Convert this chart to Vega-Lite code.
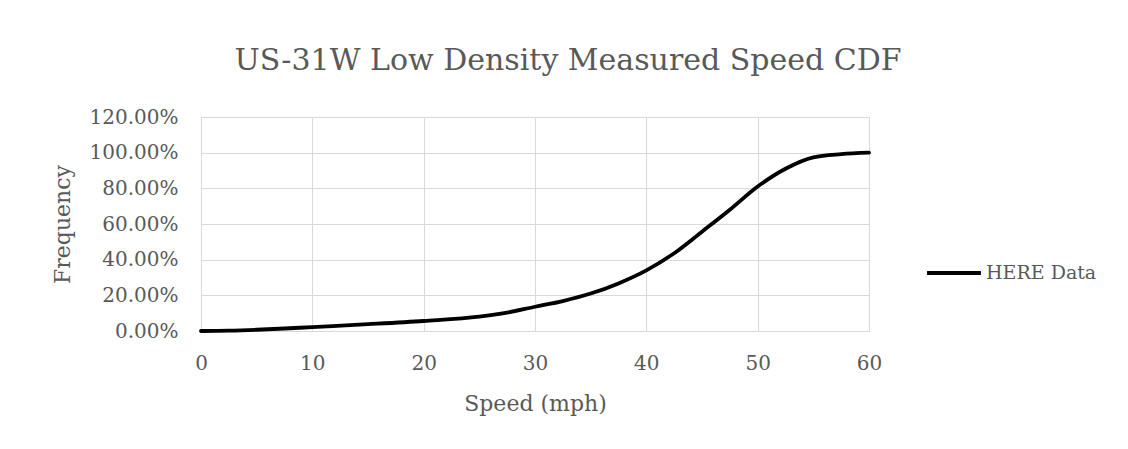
{
  "$schema": "https://vega.github.io/schema/vega-lite/v6.json",
  "width": 668,
  "height": 214,
  "autosize": {"type": "none"},
  "padding": {"left": 201, "top": 117, "right": 259, "bottom": 118},
  "background": "white",
  "config": {
    "font": "DejaVu Serif",
    "view": {"stroke": null}
  },
  "title": {
    "text": "US-31W Low Density Measured Speed CDF",
    "font": "DejaVu Serif",
    "fontSize": 30,
    "fontWeight": "normal",
    "color": "#595959",
    "anchor": "middle",
    "dx": 33,
    "offset": 31
  },
  "data": {
    "values": [
      {"speed": 0, "freq": 0.0, "series": "HERE Data"},
      {"speed": 2.5, "freq": 0.002, "series": "HERE Data"},
      {"speed": 5, "freq": 0.007, "series": "HERE Data"},
      {"speed": 7.5, "freq": 0.014, "series": "HERE Data"},
      {"speed": 10, "freq": 0.022, "series": "HERE Data"},
      {"speed": 15, "freq": 0.038, "series": "HERE Data"},
      {"speed": 20, "freq": 0.056, "series": "HERE Data"},
      {"speed": 25, "freq": 0.08, "series": "HERE Data"},
      {"speed": 27.5, "freq": 0.103, "series": "HERE Data"},
      {"speed": 30, "freq": 0.136, "series": "HERE Data"},
      {"speed": 32.5, "freq": 0.168, "series": "HERE Data"},
      {"speed": 35, "freq": 0.21, "series": "HERE Data"},
      {"speed": 37.5, "freq": 0.267, "series": "HERE Data"},
      {"speed": 40, "freq": 0.34, "series": "HERE Data"},
      {"speed": 42.5, "freq": 0.436, "series": "HERE Data"},
      {"speed": 45, "freq": 0.557, "series": "HERE Data"},
      {"speed": 47.5, "freq": 0.68, "series": "HERE Data"},
      {"speed": 50, "freq": 0.81, "series": "HERE Data"},
      {"speed": 52.5, "freq": 0.91, "series": "HERE Data"},
      {"speed": 55, "freq": 0.974, "series": "HERE Data"},
      {"speed": 57.5, "freq": 0.992, "series": "HERE Data"},
      {"speed": 60, "freq": 1.0, "series": "HERE Data"}
    ]
  },
  "mark": {"type": "line", "interpolate": "monotone", "strokeWidth": 3.8, "strokeCap": "round"},
  "encoding": {
    "x": {
      "field": "speed",
      "type": "quantitative",
      "scale": {"domain": [0, 60], "nice": false, "zero": true},
      "axis": {
        "title": "Speed (mph)",
        "values": [0, 10, 20, 30, 40, 50, 60],
        "grid": true,
        "gridColor": "#d9d9d9",
        "gridWidth": 1,
        "domainColor": "#d9d9d9",
        "domainWidth": 1,
        "ticks": false,
        "labelFlush": false,
        "labelFont": "DejaVu Serif",
        "labelFontSize": 20,
        "labelColor": "#595959",
        "labelPadding": 22,
        "titleFont": "DejaVu Serif",
        "titleFontSize": 22,
        "titleFontWeight": "normal",
        "titleColor": "#595959",
        "titlePadding": 20
      }
    },
    "y": {
      "field": "freq",
      "type": "quantitative",
      "scale": {"domain": [0, 1.2], "nice": false},
      "axis": {
        "title": "Frequency",
        "values": [0, 0.2, 0.4, 0.6, 0.8, 1.0, 1.2],
        "format": ".2%",
        "grid": true,
        "gridColor": "#d9d9d9",
        "gridWidth": 1,
        "domainColor": "#d9d9d9",
        "domainWidth": 1,
        "ticks": false,
        "labelFlush": false,
        "labelFont": "DejaVu Serif",
        "labelFontSize": 20,
        "labelColor": "#595959",
        "labelPadding": 23,
        "titleFont": "DejaVu Serif",
        "titleFontSize": 22,
        "titleFontWeight": "normal",
        "titleColor": "#595959",
        "titlePadding": 15
      }
    },
    "color": {
      "field": "series",
      "type": "nominal",
      "scale": {"range": ["#000000"]},
      "legend": {
        "title": null,
        "orient": "none",
        "legendX": 724,
        "legendY": 127,
        "symbolType": "stroke",
        "symbolSize": 2900,
        "symbolStrokeWidth": 3.8,
        "symbolStrokeColor": "#000000",
        "labelFont": "DejaVu Serif",
        "labelFontSize": 19,
        "labelColor": "#595959",
        "labelOffset": 3
      }
    }
  }
}
